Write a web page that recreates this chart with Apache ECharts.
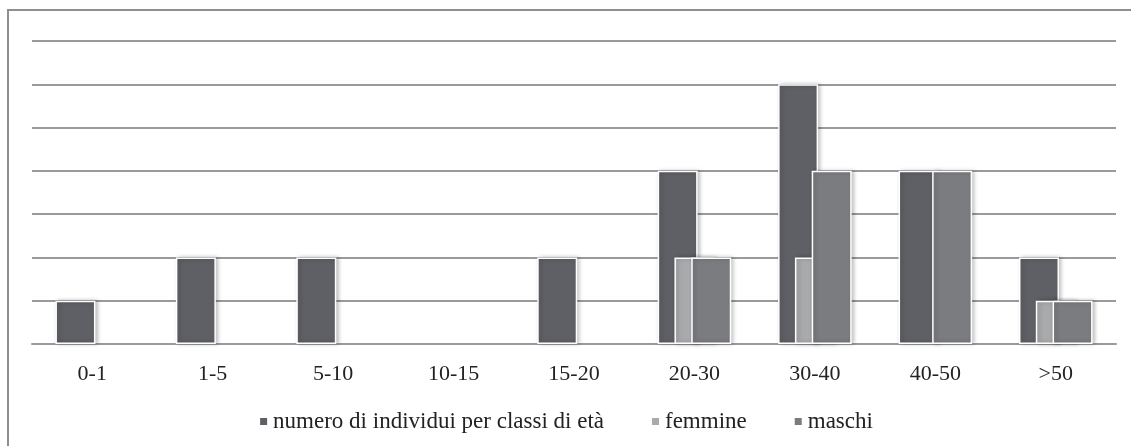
<!DOCTYPE html>
<html>
<head>
<meta charset="utf-8">
<script src="https://cdn.jsdelivr.net/npm/echarts@6/dist/echarts.min.js"></script>
<style>html,body{margin:0;padding:0;background:#fff}#c{width:1131px;height:446px}</style>
</head>
<body>
<div id="c"></div>
<script>
const categories = ['0-1', '1-5', '5-10', '10-15', '15-20', '20-30', '30-40', '40-50', '>50'];
const seriesNames = ['numero di individui per classi di età', 'femmine', 'maschi'];
const totalValues = [1, 2, 2, 0, 2, 4, 6, 4, 2];
const femmineValues = [0, 0, 0, 0, 0, 2, 2, 0, 1];
const maschiValues = [0, 0, 0, 0, 0, 2, 4, 4, 1];
const colors = ['#5f6065', '#a9aaac', '#7b7c80'];

const chart = echarts.init(document.getElementById('c'), null, {renderer: 'canvas'});
const font = "'Liberation Serif', 'DejaVu Serif', serif";
function mk(name, data, color) {
  return {
    name: name, type: 'bar',
    data: data.map(v => (v === 0 ? null : v)),
    barWidth: 40, barGap: '-58%',
    itemStyle: {color: color, borderColor: '#ffffff', borderWidth: 1.5,
      shadowBlur: 4, shadowColor: 'rgba(0,0,0,0.25)', shadowOffsetX: 2, shadowOffsetY: 0},
    emphasis: {disabled: true}, animation: false
  };
}
chart.setOption({
  animation: false,
  textStyle: {fontFamily: font},
  grid: {left: 32, right: 15, top: 41, bottom: 102, containLabel: false},
  legend: {
    top: 405, left: 'center', itemWidth: 9, itemHeight: 9, itemGap: 46,
    icon: 'rect',
    textStyle: {fontFamily: font, fontSize: 23, color: '#222'},
    data: seriesNames
  },
  xAxis: {
    type: 'category', data: categories,
    axisLine: {show: true, lineStyle: {color: '#9a9a9c', width: 2}},
    axisTick: {show: false},
    axisLabel: {fontFamily: font, fontSize: 22, color: '#222', margin: 19}
  },
  yAxis: {
    type: 'value', min: 0, max: 7, interval: 1,
    axisLabel: {show: false}, axisLine: {show: false}, axisTick: {show: false},
    splitLine: {lineStyle: {color: '#9a9a9c', width: 2}}
  },
  graphic: [
    {type: 'polyline', shape: {points: [[8, 446], [8, 10], [1131, 10]]}, style: {stroke: '#8e8e90', lineWidth: 2, fill: null}}
  ],
  series: [
    mk(seriesNames[0], totalValues, colors[0]),
    mk(seriesNames[1], femmineValues, colors[1]),
    mk(seriesNames[2], maschiValues, colors[2])
  ]
});
</script>
</body>
</html>
